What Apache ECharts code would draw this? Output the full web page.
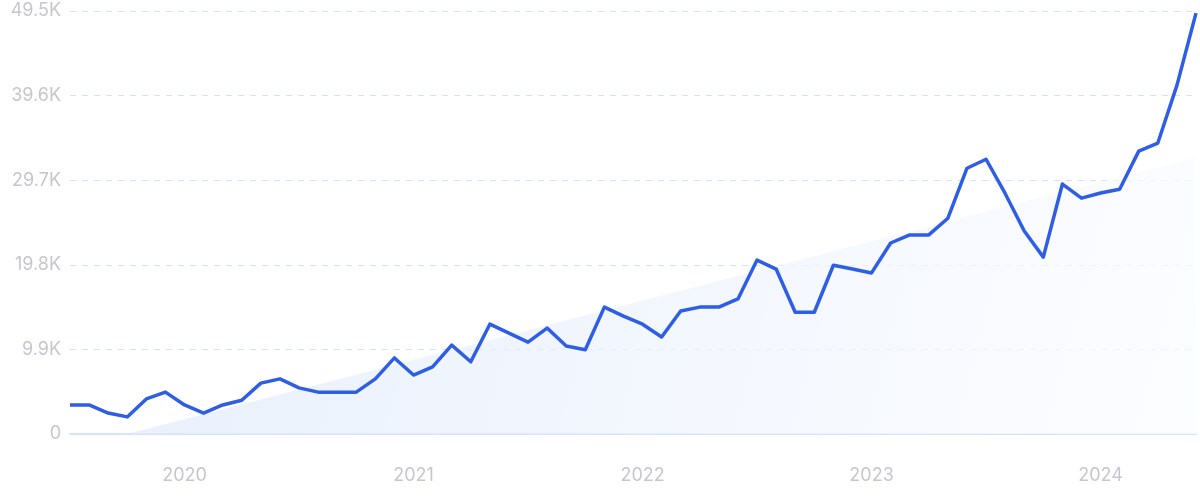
<!DOCTYPE html>
<html>
<head>
<meta charset="utf-8">
<script src="https://cdn.jsdelivr.net/npm/echarts@6/dist/echarts.min.js"></script>
<style>
html,body{margin:0;padding:0;background:#fff;}
#chart{width:1200px;height:499px;}
</style>
</head>
<body>
<div id="chart"></div>
<script>
// Months Jul 2019 .. Jun 2024
const months = [
  "2019-07","2019-08","2019-09","2019-10","2019-11","2019-12",
  "2020-01","2020-02","2020-03","2020-04","2020-05","2020-06","2020-07","2020-08","2020-09","2020-10","2020-11","2020-12",
  "2021-01","2021-02","2021-03","2021-04","2021-05","2021-06","2021-07","2021-08","2021-09","2021-10","2021-11","2021-12",
  "2022-01","2022-02","2022-03","2022-04","2022-05","2022-06","2022-07","2022-08","2022-09","2022-10","2022-11","2022-12",
  "2023-01","2023-02","2023-03","2023-04","2023-05","2023-06","2023-07","2023-08","2023-09","2023-10","2023-11","2023-12",
  "2024-01","2024-02","2024-03","2024-04","2024-05","2024-06"
];
const searches = [
  3400, 3400, 2450, 2000, 4100, 4900,
  3400, 2450, 3400, 3950, 5950, 6450, 5400, 4900, 4900, 4900, 6450, 8900,
  6900, 7850, 10400, 8450, 12850, 11800, 10750, 12400, 10300, 9850, 14850, 13800,
  12850, 11350, 14400, 14850, 14850, 15800, 20350, 19300, 14250, 14250, 19750, 19300,
  18850, 22350, 23300, 23300, 25250, 31100, 32150, 28150, 23750, 20700, 29250, 27600,
  28200, 28650, 33100, 34050, 40800, 49250
];
// Trend: two anchor values only (start at Oct 2019, end at Jun 2024)
const trend = months.map(() => null);
trend[3] = 0;
trend[59] = 32400;
const yTicks = { min: 0, max: 49500, step: 9900 };

const chart = echarts.init(document.getElementById('chart'), null, { renderer: 'canvas' });
chart.setOption({
  animation: false,
  backgroundColor: '#ffffff',
  grid: { left: 70, right: 4, top: 11, bottom: 65, containLabel: false },
  xAxis: {
    type: 'category',
    data: months,
    boundaryGap: false,
    axisLine: { show: true, lineStyle: { color: '#d6e4fb', width: 2 } },
    axisTick: { show: false },
    splitLine: { show: false },
    axisLabel: {
      interval: (i, v) => v.endsWith('-01'),
      formatter: v => v.slice(0, 4),
      color: '#c6c6d0',
      fontSize: 18,
      fontFamily: 'Inter, "Noto Sans", sans-serif',
      margin: 33
    }
  },
  yAxis: {
    type: 'value',
    min: yTicks.min,
    max: yTicks.max,
    interval: yTicks.step,
    axisLine: { show: false },
    axisTick: { show: false },
    splitLine: { show: true, lineStyle: { color: '#d2e2fb', type: [6, 6], width: 1 } },
    axisLabel: {
      formatter: v => v === 0 ? '0' : (v / 1000).toFixed(1) + 'K',
      color: '#c6c6d0',
      fontSize: 18,
      fontFamily: 'Inter, "Noto Sans", sans-serif',
      margin: 9
    }
  },
  series: [
    {
      type: 'line',
      data: trend,
      connectNulls: true,
      symbol: 'none',
      lineStyle: { width: 0, opacity: 0 },
      areaStyle: {
        color: new echarts.graphic.LinearGradient(0, 0, 1, 1, [
          { offset: 0, color: '#dfeafb' },
          { offset: 1, color: '#fbfcff' }
        ])
      },
      z: 1
    },
    {
      type: 'line',
      data: searches,
      symbol: 'none',
      lineStyle: { color: '#2e5ee6', width: 3.5, join: 'round' },
      z: 3
    }
  ]
});
</script>
</body>
</html>
